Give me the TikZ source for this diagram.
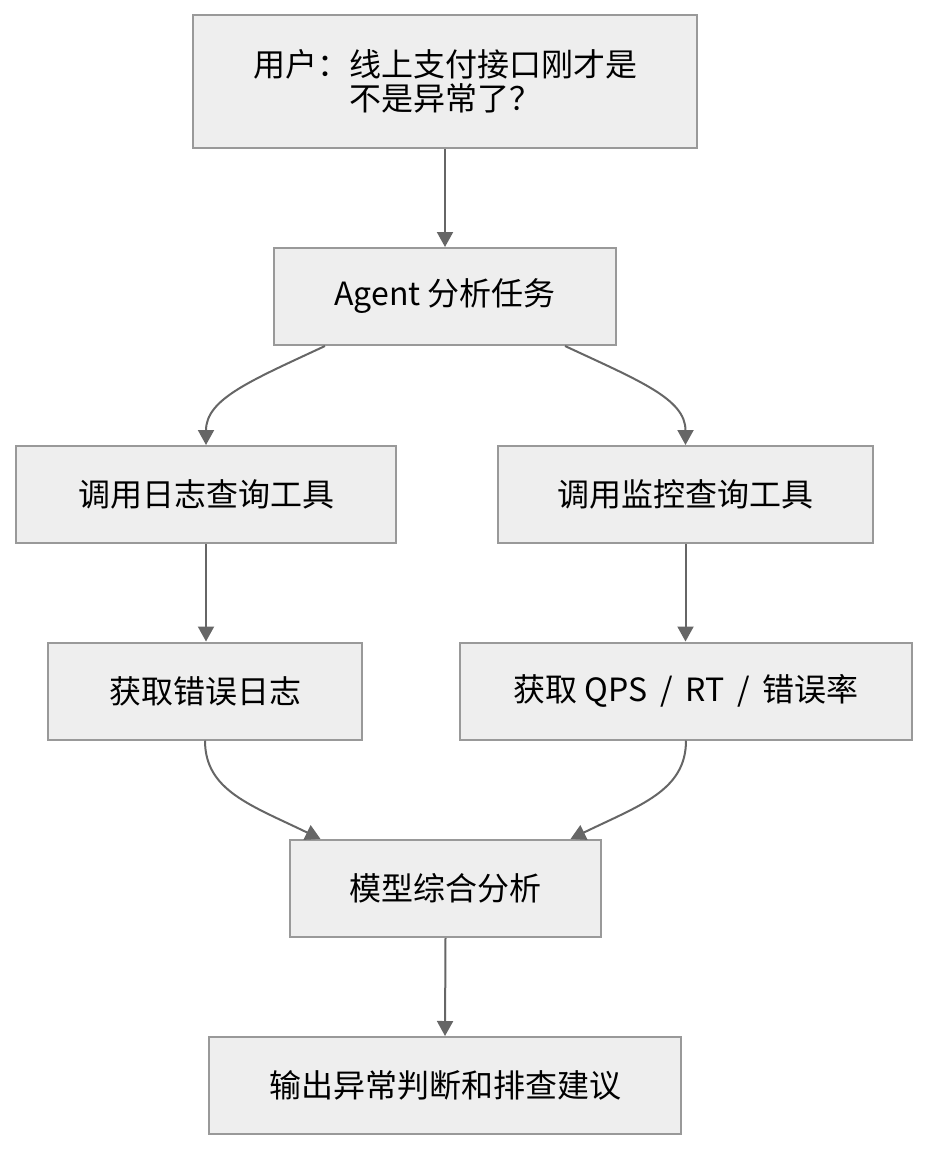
\documentclass[tikz,border=0pt]{standalone}
\usepackage{fontspec}
\setmainfont{Noto Sans CJK SC}
\usetikzlibrary{arrows.meta}

\definecolor{boxfill}{HTML}{EEEEEE}
\definecolor{boxline}{HTML}{999999}
\definecolor{flowline}{HTML}{666666}

\begin{document}
\begin{tikzpicture}[
        x=0.5pt, y=-0.5pt,
        >={Triangle[width=8pt,length=7.5pt]},
        font=\fontsize{16}{17}\selectfont,
        % Kasten- und Pfeilstile
        stepbox/.style={draw=boxline, fill=boxfill, line width=1pt, rectangle, minimum height=48.5pt, align=center, inner sep=0pt},
        flow/.style={->, line width=1pt, draw=flowline}
    ]
    \useasboundingbox (0,0) rectangle (929,1152);

    % ==========================================
    % 1. KNOTEN
    % ==========================================

    % Anfrage
    \node[stepbox, minimum width=252pt, minimum height=66.5pt] (user) at (445, 81.5) {用户：线上支付接口刚才是\\不是异常了？};
    \node[stepbox, minimum width=171pt] (agent) at (445, 296.5) {Agent 分析任务};

    % Werkzeuge
    \node[stepbox, minimum width=190pt] (logtool) at (206, 494.5) {调用日志查询工具};
    \node[stepbox, minimum width=187.5pt] (montool) at (685.5, 494.5) {调用监控查询工具};

    % Ergebnisse
    \node[stepbox, minimum width=157pt] (errlog) at (205, 691) {获取错误日志};
    \node[stepbox, minimum width=226pt] (metrics) at (686, 691) {获取 QPS\hspace{0.4em}/\hspace{0.4em}RT\hspace{0.4em}/\hspace{0.4em}错误率};

    % Auswertung
    \node[stepbox, minimum width=155.5pt] (model) at (445.5, 888.5) {模型综合分析};
    \node[stepbox, minimum width=236pt] (report) at (445, 1085.5) {输出异常判断和排查建议};

    % ==========================================
    % 2. VERBINDUNGEN
    % ==========================================

    \draw[flow] (user.south) -- (agent.north);

    \draw[flow] ([xshift=-60pt]agent.south) .. controls +(-75,35) and +(0,-46) .. (logtool.north);
    \draw[flow] ([xshift=60pt]agent.south) .. controls +(75,35) and +(0,-46) .. (montool.north);

    \draw[flow] (logtool.south) -- (logtool.south |- errlog.north);
    \draw[flow] (montool.south) -- (montool.south |- metrics.north);

    \draw[flow] (errlog.south) .. controls +(0,50) and +(-70,-34) .. ([xshift=-62.5pt]model.north);
    \draw[flow] (metrics.south) .. controls +(0,50) and +(70,-34) .. ([xshift=62.5pt]model.north);

    \draw[flow] (model.south) -- (report.north);

\end{tikzpicture}
\end{document}
